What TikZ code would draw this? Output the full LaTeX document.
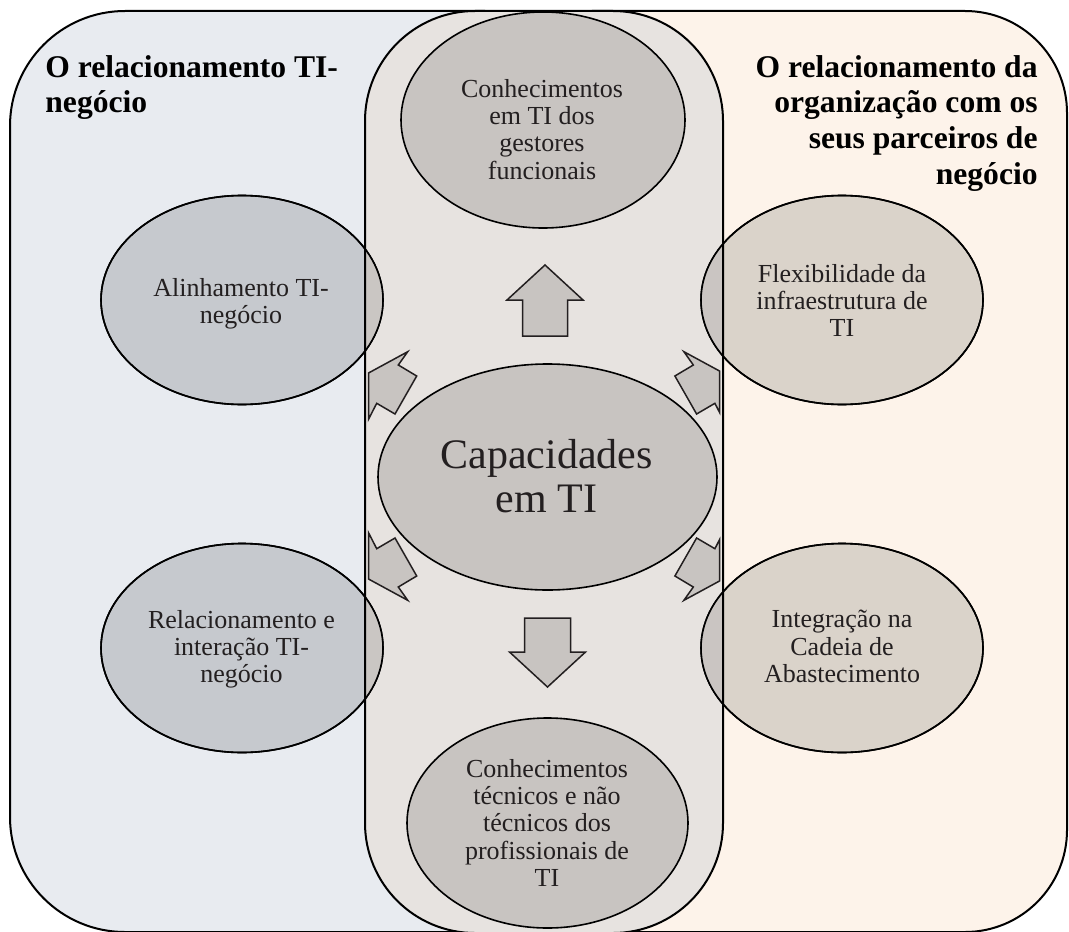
\documentclass[tikz,border=0pt]{standalone}
\usepackage{fontspec}
\setmainfont{Liberation Serif}
\usetikzlibrary{shapes.geometric}
\definecolor{leftbg}{HTML}{E8EBF0}
\definecolor{rightbg}{HTML}{FDF3EA}
\definecolor{midbg}{HTML}{E7E3E0}
\definecolor{leftell}{HTML}{C6C9CE}
\definecolor{rightell}{HTML}{DAD3CA}
\definecolor{midell}{HTML}{C8C4C1}
\definecolor{leftover}{HTML}{CAC6C3}
\definecolor{rightover}{HTML}{CAC5C2}
\definecolor{ink}{HTML}{231F20}

\begin{document}
\begin{tikzpicture}[x=0.5pt,y=-0.5pt,
  panel/.style={draw=black, line width=1pt},
  bubble/.style={ellipse, draw=black, line width=0.8pt, inner sep=0pt,
                 minimum width=141pt, minimum height=104.5pt},
  bubbletext/.style={anchor=north, align=center, inner sep=0pt, text=ink,
                     font=\fontsize{13}{13.6}\selectfont},
  heading/.style={inner sep=0pt, text=black, font=\bfseries\fontsize{15.8}{17.8}\selectfont},
  blockarrow/.style={fill=midell, draw=ink, line width=0.75pt, line join=miter}
]
\useasboundingbox (0,0) rectangle (1069,931);

% outer panels
\filldraw[panel, fill=leftbg, rounded corners=57.5pt] (10,11) rectangle (600,932);
\filldraw[panel, fill=rightbg, rounded corners=51pt] (490,11) rectangle (1067,932);

% central panel background
\fill[midbg, rounded corners=55pt] (365,11) rectangle (723,933);

% side bubbles
\node[bubble, fill=leftell] (alin) at (242,300) {};
\node[bubble, fill=leftell] (relac) at (242,648) {};
\node[bubble, fill=rightell] (flex) at (842,300) {};
\node[bubble, fill=rightell] (integ) at (842,648) {};

% parts of the side bubbles lying inside the central panel
\begin{scope}
  \clip[rounded corners=55pt] (365,11) rectangle (723,933);
  \fill[leftover] (alin.center) ellipse [x radius=70.5pt, y radius=52.25pt];
  \fill[leftover] (relac.center) ellipse [x radius=70.5pt, y radius=52.25pt];
  \fill[rightover] (flex.center) ellipse [x radius=70.5pt, y radius=52.25pt];
  \fill[rightover] (integ.center) ellipse [x radius=70.5pt, y radius=52.25pt];
\end{scope}
\foreach \b in {alin,relac,flex,integ}
  \draw[line width=0.8pt] (\b.center) ellipse [x radius=70.5pt, y radius=52.25pt];

% central panel border
\draw[panel, rounded corners=55pt] (365,11) rectangle (723,933);

% central bubbles
\node[bubble, fill=midell, minimum width=142pt, minimum height=108pt] (gest) at (543,120) {};
\node[bubble, fill=midell, minimum width=140.5pt, minimum height=105pt] (prof) at (547.5,823) {};
\node[bubble, fill=midell, minimum width=169.5pt, minimum height=113pt] (cap) at (547.5,477) {};

% block arrows
\draw[blockarrow] (545,265) -- (583,300) -- (567.5,300) -- (567.5,336)
  -- (522.5,336) -- (522.5,300) -- (507,300) -- cycle;
\draw[blockarrow] (547.5,687) -- (585.5,652) -- (570.5,652) -- (570.5,618)
  -- (524.5,618) -- (524.5,652) -- (509.5,652) -- cycle;
\draw[blockarrow] (407.7,351.7) -- (398.3,365) -- (416.7,376) -- (395,414)
  -- (376.7,403.3) -- (368.5,419.3) -- (368.5,373) -- cycle;
\draw[blockarrow] (407.7,600.3) -- (398.3,587) -- (416.7,576) -- (395,538)
  -- (376.7,548.7) -- (368.5,532.7) -- (368.5,579) -- cycle;
\draw[blockarrow] (683.9,351.7) -- (693.3,365) -- (674.9,376) -- (696.6,414)
  -- (714.9,403.3) -- (719.5,412.3) -- (719.5,371) -- cycle;
\draw[blockarrow] (683.9,600.3) -- (693.3,587) -- (674.9,576) -- (696.6,538)
  -- (714.9,548.7) -- (719.5,539.7) -- (719.5,581) -- cycle;

% headings
\node[heading, anchor=north west, align=left] (hleft) at (45,55)
  {O relacionamento TI-\\negócio};
\node[heading, anchor=north east, align=right] (hright) at (1038,55)
  {O relacionamento da\\organização com os\\seus parceiros de\\negócio};

% bubble texts
\node[bubbletext] (gestT) at (542,79) {Conhecimentos\\em TI dos\\gestores\\funcionais};
\node[bubbletext] (alinT) at (241,278) {Alinhamento TI-\\negócio};
\node[bubbletext] (relacT) at (241.5,610) {Relacionamento e\\interação TI-\\negócio};
\node[bubbletext] (flexT) at (842,264) {Flexibilidade da\\infraestrutura de\\TI};
\node[bubbletext] (integT) at (842,610) {Integração na\\Cadeia de\\Abastecimento};
\node[bubbletext] (profT) at (547,759) {Conhecimentos\\técnicos e não\\técnicos dos\\profissionais de\\TI};
\node[bubbletext, font=\fontsize{21}{22}\selectfont] (capT) at (546.5,439) {Capacidades\\em TI};
\end{tikzpicture}
\end{document}
